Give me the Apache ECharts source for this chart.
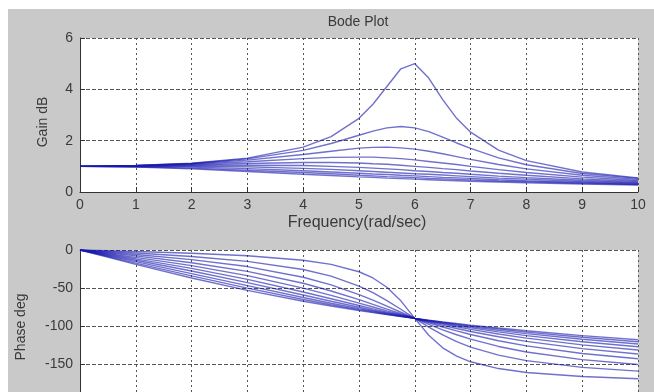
<!DOCTYPE html>
<html>
<head>
<meta charset="utf-8">
<script src="https://cdn.jsdelivr.net/npm/echarts@6/dist/echarts.min.js"></script>
<style>
  html, body { margin: 0; padding: 0; background: #fff; overflow: hidden; }
  #chart { position: absolute; left: 8px; top: 9px; width: 646px; height: 400px; }
</style>
</head>
<body>
<div id="chart"></div>
<script>
// frequency samples (rad/sec)
var freq = [0, 1, 2, 3, 4, 4.5, 5, 5.25, 5.5, 5.75, 6, 6.25, 6.5, 6.75, 7, 7.5, 8, 9, 10];

// gain, one array per curve (top curve first)
var gain1  = [1, 1.03, 1.12, 1.32, 1.75, 2.16, 2.87, 3.42, 4.11, 4.80, 5.00, 4.44, 3.60, 2.87, 2.33, 1.63, 1.22, 0.78, 0.55];
var gain2  = [1, 1.03, 1.11, 1.29, 1.62, 1.89, 2.21, 2.37, 2.50, 2.55, 2.50, 2.35, 2.14, 1.91, 1.70, 1.33, 1.06, 0.72, 0.53];
var gain3  = [1, 1.02, 1.10, 1.24, 1.46, 1.59, 1.71, 1.74, 1.75, 1.72, 1.67, 1.59, 1.49, 1.38, 1.27, 1.07, 0.90, 0.65, 0.49];
var gain4  = [1, 1.02, 1.08, 1.18, 1.30, 1.35, 1.36, 1.36, 1.33, 1.30, 1.25, 1.19, 1.13, 1.07, 1.00, 0.87, 0.76, 0.58, 0.45];
var gain5  = [1, 1.01, 1.05, 1.11, 1.15, 1.15, 1.13, 1.10, 1.08, 1.04, 1.00, 0.96, 0.91, 0.87, 0.82, 0.73, 0.65, 0.51, 0.41];
var gain6  = [1, 1.01, 1.03, 1.04, 1.03, 1.00, 0.96, 0.93, 0.90, 0.87, 0.83, 0.80, 0.76, 0.73, 0.69, 0.62, 0.56, 0.46, 0.37];
var gain7  = [1, 1.00, 1.00, 0.98, 0.92, 0.88, 0.83, 0.80, 0.77, 0.74, 0.71, 0.69, 0.66, 0.63, 0.60, 0.54, 0.50, 0.41, 0.34];
var gain8  = [1, 0.99, 0.97, 0.91, 0.83, 0.78, 0.73, 0.70, 0.68, 0.65, 0.63, 0.60, 0.57, 0.55, 0.53, 0.48, 0.44, 0.37, 0.31];
var gain9  = [1, 0.98, 0.93, 0.85, 0.76, 0.71, 0.65, 0.63, 0.60, 0.58, 0.56, 0.53, 0.51, 0.49, 0.47, 0.43, 0.40, 0.34, 0.29];
var gain10 = [1, 0.97, 0.90, 0.80, 0.69, 0.64, 0.59, 0.57, 0.54, 0.52, 0.50, 0.48, 0.46, 0.44, 0.42, 0.39, 0.36, 0.31, 0.27];

// phase (deg), same curves
var phase1  = [0, -2.0, -4.3, -7.6, -13.5, -18.9, -28.6, -36.8, -49.0, -66.9, -90, -112.2, -128.7, -139.7, -147.1, -156.0, -161.1, -166.5, -169.4];
var phase2  = [0, -3.9, -8.5, -14.9, -25.6, -34.4, -47.5, -56.2, -66.5, -78.0, -90, -101.5, -111.8, -120.6, -127.7, -138.4, -145.6, -154.4, -159.4];
var phase3  = [0, -5.9, -12.7, -21.8, -35.8, -45.8, -58.6, -65.9, -73.8, -81.9, -90, -97.8, -105.0, -111.5, -117.3, -126.9, -134.2, -144.3, -150.6];
var phase4  = [0, -7.8, -16.7, -28.1, -43.8, -53.9, -65.4, -71.5, -77.7, -83.9, -90, -95.8, -101.3, -106.4, -111.2, -119.4, -126.1, -136.2, -143.1];
var phase5  = [0, -9.7, -20.6, -33.7, -50.2, -59.7, -69.9, -75.0, -80.1, -85.1, -90, -94.7, -99.1, -103.3, -107.2, -114.2, -120.3, -129.8, -136.9];
var phase6  = [0, -11.6, -24.2, -38.7, -55.2, -64.1, -73.0, -77.4, -81.7, -85.9, -90, -93.9, -97.6, -101.1, -104.5, -110.6, -115.9, -124.8, -131.6];
var phase7  = [0, -13.5, -27.7, -43.0, -59.2, -67.4, -75.3, -79.2, -82.9, -86.5, -90, -93.3, -96.5, -99.6, -102.5, -107.8, -112.6, -120.8, -127.3];
var phase8  = [0, -15.3, -31.0, -46.9, -62.5, -70.0, -77.1, -80.5, -83.8, -87.0, -90, -92.9, -95.7, -98.4, -101.0, -105.7, -110.0, -117.5, -123.7];
var phase9  = [0, -17.2, -34.0, -50.2, -65.2, -72.0, -78.5, -81.5, -84.5, -87.3, -90, -92.6, -95.1, -97.5, -99.8, -104.0, -108.0, -114.8, -120.7];
var phase10 = [0, -18.9, -36.9, -53.1, -67.4, -73.7, -79.6, -82.4, -85.0, -87.6, -90, -92.3, -94.6, -96.7, -98.8, -102.7, -106.3, -112.6, -118.1];

var gainCurves = [gain1, gain2, gain3, gain4, gain5, gain6, gain7, gain8, gain9, gain10];
var phaseCurves = [phase1, phase2, phase3, phase4, phase5, phase6, phase7, phase8, phase9, phase10];

var chart = echarts.init(document.getElementById('chart'));

var lineColor = 'rgba(25,25,175,0.62)';
var txtColor = '#3a3a3a';
var fontFam = 'Liberation Sans, Arial, sans-serif';

function pairs(vals) {
    var out = [];
    for (var i = 0; i < freq.length; i++) out.push([freq[i], vals[i]]);
    return out;
}

var series = [];
for (var k = 0; k < gainCurves.length; k++) {
    series.push({
        type: 'line', xAxisIndex: 0, yAxisIndex: 0,
        data: pairs(gainCurves[k]), showSymbol: false, silent: true,
        lineStyle: {color: lineColor, width: 1.4}
    });
}
for (var k = 0; k < phaseCurves.length; k++) {
    series.push({
        type: 'line', xAxisIndex: 1, yAxisIndex: 1,
        data: pairs(phaseCurves[k]), showSymbol: false, silent: true,
        lineStyle: {color: lineColor, width: 1.4}
    });
}

function xAxisFor(idx, showLabel) {
    return {
        type: 'value', gridIndex: idx, min: 0, max: 10, interval: 1,
        axisLine: {show: true, onZero: false, lineStyle: {color: '#333', width: 1}},
        axisTick: {show: true, inside: true, length: 5, lineStyle: {color: '#333'}},
        axisLabel: {show: showLabel, color: txtColor, fontSize: 14, fontFamily: fontFam, margin: 6},
        splitLine: {show: true, lineStyle: {color: '#555', type: [2, 3], width: 1}}
    };
}
function yAxisFor(idx, min, max, step) {
    return {
        type: 'value', gridIndex: idx, min: min, max: max, interval: step,
        axisLine: {show: true, onZero: false, lineStyle: {color: '#333', width: 1}},
        axisTick: {show: true, inside: true, length: 5, lineStyle: {color: '#333'}},
        axisLabel: {color: txtColor, fontSize: 14, fontFamily: fontFam, margin: 7},
        splitLine: {show: true, lineStyle: {color: '#555', type: [4, 2], width: 1}}
    };
}

var option = {
    backgroundColor: '#c9c9c9',
    animation: false,
    grid: [
        {left: 72, top: 29, width: 558, height: 154, show: true, backgroundColor: '#fff', borderWidth: 0},
        {left: 72, top: 241, width: 558, height: 153, show: true, backgroundColor: '#fff', borderWidth: 0}
    ],
    xAxis: [xAxisFor(0, true), xAxisFor(1, false)],
    yAxis: [yAxisFor(0, 0, 6, 2), yAxisFor(1, -200, 0, 50)],
    graphic: [
        {type: 'text', style: {text: 'Bode Plot', x: 350, y: 13, align: 'center', verticalAlign: 'middle', fill: txtColor, font: '14px ' + fontFam}},
        {type: 'text', style: {text: 'Frequency(rad/sec)', x: 349, y: 214, align: 'center', verticalAlign: 'middle', fill: txtColor, font: '16px ' + fontFam}},
        {type: 'text', x: 35, y: 113, rotation: Math.PI / 2, style: {text: 'Gain dB', align: 'center', verticalAlign: 'middle', fill: txtColor, font: '14px ' + fontFam}},
        {type: 'text', x: 13, y: 318, rotation: Math.PI / 2, style: {text: 'Phase deg', align: 'center', verticalAlign: 'middle', fill: txtColor, font: '14px ' + fontFam}}
    ],
    series: series
};
chart.setOption(option);
</script>
</body>
</html>
